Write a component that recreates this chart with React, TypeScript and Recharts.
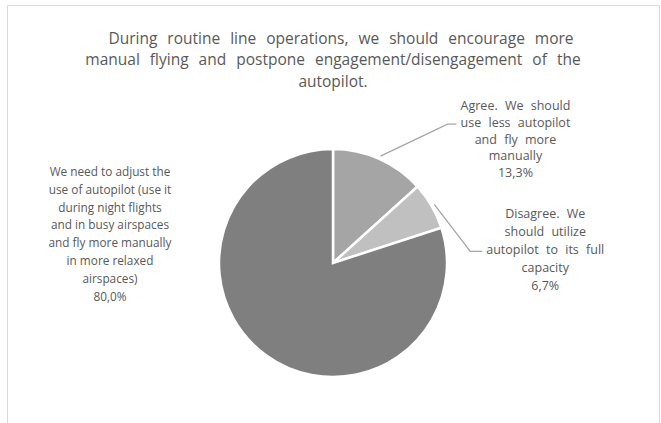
import React from "react";
import { PieChart, Pie, Cell } from "recharts";

const titleLines = [
  "During routine line operations, we should encourage more",
  "manual flying and postpone engagement/disengagement of the",
  "autopilot.",
];
const titleShift = [8, 0, 0];

const categories = [
  ["Agree. We should", "use less autopilot", "and fly more", "manually"],
  ["Disagree. We", "should utilize", "autopilot to its full", "capacity"],
  [
    "We need to adjust the",
    "use of autopilot (use it",
    "during night flights",
    "and in busy airspaces",
    "and fly more manually",
    "in more relaxed",
    "airspaces)",
  ],
];
const values = [13.3, 6.7, 80.0];
const percentLabels = ["13,3%", "6,7%", "80,0%"];
const colors = ["#a5a5a5", "#c0c0c0", "#7f7f7f"];

const data = values.map((v, i) => ({ name: categories[i].join(" "), value: v }));

// layout of each label: leader elbow offset (from line start), text block offset
const labelLayout = [
  { line: true, elbowDx: 67, elbowDy: -32, tailDx: 9, textDx: 68, textDy: -14, lh: 16.8, fs: 12.5, ws: 4 },
  { line: true, elbowDx: 36, elbowDy: 47, tailDx: 12, textDx: 75, textDy: -33, lh: 18, fs: 12.5, ws: 4 },
  { line: false, textDx: -223, textDy: -87, lh: 17.8, fs: 11.8, ws: 0 },
];

const RADIAN = Math.PI / 180;

const renderLabel = (props: any) => {
  const { cx, cy, midAngle, outerRadius, index } = props;
  const L = labelLayout[index];
  const sx = cx + (outerRadius + 3) * Math.cos(-midAngle * RADIAN);
  const sy = cy + (outerRadius + 3) * Math.sin(-midAngle * RADIAN);
  let tx = cx + L.textDx;
  let ty = cy + L.textDy;
  let path: React.ReactNode = null;
  if (L.line) {
    const ex = sx + (L.elbowDx as number);
    const ey = sy + (L.elbowDy as number);
    const hx = ex + (L.tailDx as number);
    path = (
      <polyline
        points={`${sx},${sy} ${ex},${ey} ${hx},${ey}`}
        fill="none"
        stroke="#a6a6a6"
        strokeWidth={1.3}
      />
    );
    tx = ex + L.textDx;
    ty = ey + L.textDy;
  }
  const lines = [...categories[index], percentLabels[index]];
  return (
    <g key={`lbl-${index}`}>
      {path}
      <text
        x={tx}
        y={ty}
        textAnchor="middle"
        fill="#595959"
        fontSize={L.fs}
        fontFamily="'Open Sans', sans-serif"
        style={{ wordSpacing: `${L.ws}px` }}
      >
        {lines.map((t, i) => (
          <tspan key={i} x={tx} dy={i === 0 ? 0 : L.lh}>
            {t}
          </tspan>
        ))}
      </text>
    </g>
  );
};

export default function App() {
  return (
    <div style={{ position: "absolute", left: 0, top: 0, width: 661, height: 423, overflow: "hidden", background: "#fff" }}>
      <svg width={661} height={423} style={{ position: "absolute", left: 0, top: 0 }}>
        <path d="M7.5,440 L7.5,5.5 L659.5,5.5 L659.5,440" fill="none" stroke="#d9d9d9" strokeWidth={1} />
      </svg>
      <div
        style={{
          position: "absolute",
          left: 0,
          top: 28,
          width: 666,
          textAlign: "center",
          fontFamily: "'Open Sans', sans-serif",
          fontSize: 15.5,
          lineHeight: "21.3px",
          color: "#595959",
          whiteSpace: "pre",
          wordSpacing: "6px",
        }}
      >
        {titleLines.map((t, i) => (
          <div key={i} style={{ paddingLeft: titleShift[i] * 2 }}>{t}</div>
        ))}
      </div>
      <div style={{ position: "absolute", left: 0, top: 0 }}>
        <PieChart width={661} height={423} margin={{ top: 0, right: 0, bottom: 0, left: 0 }}>
          <Pie
            data={data}
            dataKey="value"
            nameKey="name"
            cx={333}
            cy={263}
            outerRadius={114}
            startAngle={90}
            endAngle={-270}
            stroke="#ffffff"
            strokeWidth={2.5}
            label={renderLabel}
            labelLine={false}
            isAnimationActive={false}
          >
            {data.map((d, i) => (
              <Cell key={d.name} fill={colors[i]} />
            ))}
          </Pie>
        </PieChart>
      </div>
    </div>
  );
}
